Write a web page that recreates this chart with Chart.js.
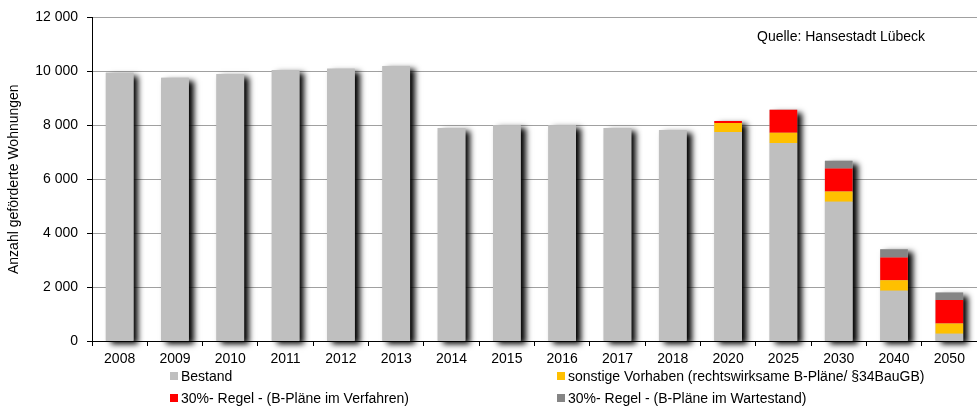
<!DOCTYPE html>
<html>
<head>
<meta charset="utf-8">
<script src="https://cdn.jsdelivr.net/npm/chart.js@4"></script>
<style>
  html, body { margin: 0; padding: 0; background: #fff; }
  #wrap { width: 977px; height: 409px; position: relative; }
</style>
</head>
<body>
<div id="wrap"><canvas id="wohnungenChart"></canvas></div>
<script>
var years = ["2008", "2009", "2010", "2011", "2012", "2013", "2014", "2015", "2016", "2017", "2018", "2020", "2025", "2030", "2040", "2050"];
var bestand = [9950, 9760, 9900, 10050, 10100, 10200, 7900, 8000, 8000, 7900, 7820, 7750, 7340, 5160, 1860, 270];
var sonstige = [0, 0, 0, 0, 0, 0, 0, 0, 0, 0, 0, 330, 380, 380, 390, 380];
var regelVerfahren = [0, 0, 0, 0, 0, 0, 0, 0, 0, 0, 0, 80, 860, 860, 850, 870];
var regelWartestand = [0, 0, 0, 0, 0, 0, 0, 0, 0, 0, 0, 0, 0, 280, 300, 275];
var seriesLabels = ["Bestand", "sonstige Vorhaben (rechtswirksame B-Pläne/ §34BauGB)", "30%- Regel - (B-Pläne im Verfahren)", "30%- Regel - (B-Pläne im Wartestand)"];
var seriesColors = ["#bfbfbf", "#ffc000", "#ff0000", "#858585"];

var baseFont = "'Liberation Sans', Arial, sans-serif";

// shadow behind each whole stack, drawn before the bars
var stackShadow = {
    id: 'stackShadow',
    beforeDatasetsDraw: function (chart) {
        var ctx = chart.ctx;
        var yScale = chart.scales.y;
        var base = yScale.getPixelForValue(0);
        var metas = chart.data.datasets.map(function (d, i) { return chart.getDatasetMeta(i); });
        ctx.save();
        ctx.shadowColor = 'rgba(0,0,0,1)';
        ctx.shadowBlur = 6;
        ctx.shadowOffsetX = 5;
        ctx.shadowOffsetY = 3;
        ctx.fillStyle = '#bfbfbf';
        years.forEach(function (y, i) {
            var top = base;
            metas.forEach(function (m) {
                var el = m.data[i];
                if (el && el.y < top) top = el.y;
            });
            var el0 = metas[0].data[i];
            ctx.fillRect(el0.x - el0.width / 2, top, el0.width, base - top);
        });
        ctx.restore();
    }
};

var extras = {
    id: 'extras',
    afterDraw: function (chart) {
        var ctx = chart.ctx;
        ctx.save();
        ctx.fillStyle = '#000';
        ctx.textBaseline = 'middle';
        ctx.font = "14px " + baseFont;
        ctx.fillText("Quelle: Hansestadt Lübeck", 757, 37);

        // legend in two columns
        var pos = [[170, 376], [557, 376], [170, 398], [557, 398]];
        ctx.font = "14px " + baseFont;
        chart.data.datasets.forEach(function (ds, i) {
            var p = pos[i];
            ctx.fillStyle = ds.backgroundColor;
            ctx.fillRect(p[0], p[1] - 4, 8, 8);
            ctx.fillStyle = '#000';
            ctx.fillText(ds.label, p[0] + 11, p[1] + 1);
        });
        ctx.restore();
    }
};

var datasets = [bestand, sonstige, regelVerfahren, regelWartestand].map(function (vals, i) {
    return {
        label: seriesLabels[i],
        data: vals,
        backgroundColor: seriesColors[i],
        borderWidth: 0,
        barPercentage: 0.5,
        categoryPercentage: 1.0
    };
});

var chartElement = document.getElementById('wohnungenChart').getContext('2d');
var chartObject = new Chart(chartElement, {
    type: 'bar',
    data: { labels: years, datasets: datasets },
    plugins: [stackShadow, extras],
    options: {
        responsive: true,
        maintainAspectRatio: false,
        animation: false,
        layout: { padding: { top: 16, right: 0, bottom: 0, left: 0 } },
        plugins: {
            legend: { display: false },
            tooltip: { enabled: false }
        },
        scales: {
            x: {
                stacked: true,
                grid: { drawOnChartArea: false, drawTicks: true, tickLength: 5, tickColor: '#000', offset: true },
                border: { color: '#000', width: 1 },
                ticks: { color: '#000', font: { family: baseFont, size: 14 }, padding: 5, maxRotation: 0, autoSkip: false },
                afterFit: function (axis) { axis.height = 68; }
            },
            y: {
                stacked: true,
                min: 0,
                max: 12000,
                grid: { color: '#a0a0a0', lineWidth: 1, drawTicks: true, tickLength: 5, tickColor: '#000' },
                border: { color: '#000', width: 1 },
                ticks: {
                    stepSize: 2000,
                    color: '#000',
                    padding: 9,
                    font: { family: baseFont, size: 14 },
                    callback: function (v) { return String(v).replace(/\B(?=(\d{3})+(?!\d))/g, ' '); }
                },
                title: {
                    display: true,
                    text: 'Anzahl geförderte Wohnungen',
                    color: '#000',
                    font: { family: baseFont, size: 14 },
                    padding: { top: 6, bottom: 0 }
                },
                afterFit: function (axis) { axis.width = 92; }
            }
        }
    }
});
chartObject.update();
</script>
</body>
</html>
